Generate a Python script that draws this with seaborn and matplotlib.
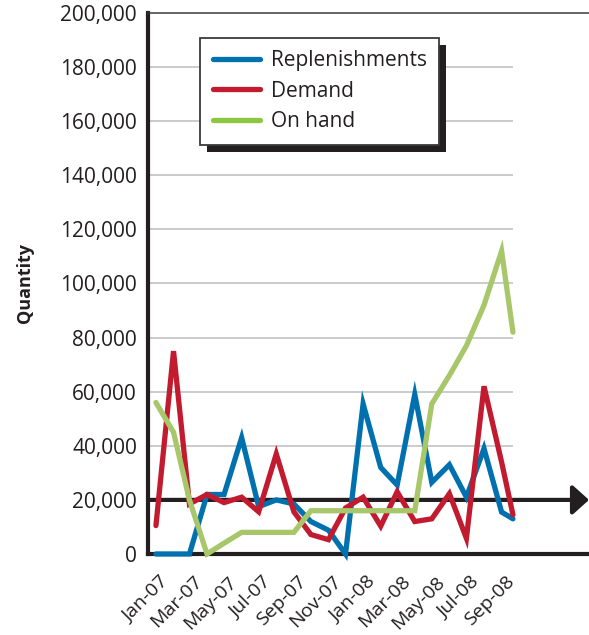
import matplotlib
matplotlib.use("Agg")
import matplotlib.pyplot as plt
import matplotlib.patches as mpatches
from matplotlib.transforms import IdentityTransform, ScaledTranslation
import pandas as pd
import seaborn as sns

# monthly points (mid-month), last reading early October 2008
dates = ["2007-01-15", "2007-02-15", "2007-03-15", "2007-04-15", "2007-05-15",
         "2007-06-15", "2007-07-15", "2007-08-15", "2007-09-15", "2007-10-15",
         "2007-11-15", "2007-12-15", "2008-01-15", "2008-02-15", "2008-03-15",
         "2008-04-15", "2008-05-15", "2008-06-15", "2008-07-15", "2008-08-15",
         "2008-09-15", "2008-10-05"]

replenishments = [0, 0, 0, 22000, 22000, 43000, 17500, 20000, 18500, 12000, 8800, 0,
                  55500, 32000, 25500, 59000, 26500, 33000, 21000, 39000, 15500, 13000]
demand = [10500, 75000, 18500, 22000, 19000, 21000, 15600, 37000, 15600, 7200, 5300, 17000,
          21000, 10300, 23000, 12000, 13000, 22300, 5800, 62000, 34000, 14500]
on_hand = [56000, 45000, 20000, 0, 4000, 8000, 8000, 8000, 8000, 16000, 16000, 16000,
           16000, 16000, 16000, 16000, 55500, 66000, 77000, 92000, 112000, 82000]

tick_labels = ["Jan-07", "Mar-07", "May-07", "Jul-07", "Sep-07", "Nov-07",
               "Jan-08", "Mar-08", "May-08", "Jul-08", "Sep-08"]
label_dates = ["2007-01-15", "2007-03-15", "2007-05-15", "2007-07-15", "2007-09-15",
               "2007-11-15", "2008-01-15", "2008-03-15", "2008-05-15", "2008-07-15",
               "2008-09-15"]
y_ticks = [0, 20000, 40000, 60000, 80000, 100000, 120000, 140000, 160000, 180000, 200000]
target_level = 20000

series_names = ["Replenishments", "Demand", "On hand"]
colors = {"Replenishments": "#0071AE", "Demand": "#C21B30", "On hand": "#A8C66A"}
ink = "#231F20"

df = pd.DataFrame({
    "Date": pd.to_datetime(dates * 3),
    "Quantity": replenishments + demand + on_hand,
    "Series": [s for s in series_names for _ in dates],
})

sns.set_style("white")
plt.rcParams["font.family"] = ["Open Sans", "DejaVu Sans"]

fig = plt.figure(figsize=(5.89, 6.35), dpi=100)
ax = fig.add_axes([148 / 589, 1 - 554 / 635, 441 / 589, 541 / 635])
ax.patch.set_alpha(0)

x_left = pd.Timestamp("2007-01-01")
x_right = pd.Timestamp("2009-02-16")

# gridlines stop at the last data point
ax.hlines(y_ticks[1:-1], x_left, pd.Timestamp(dates[-1]), color="#BDBDBD", lw=1.1, zorder=1)

# target line with arrow
ax.annotate("", xy=(1.0, target_level), xytext=(0.0, target_level),
            xycoords=("axes fraction", "data"), textcoords=("axes fraction", "data"),
            arrowprops=dict(arrowstyle="-|>,head_length=0.5,head_width=0.45",
                            color=ink, lw=3, mutation_scale=20, shrinkA=0, shrinkB=0),
            annotation_clip=False, zorder=1.5)

sns.lineplot(data=df, x="Date", y="Quantity", hue="Series", palette=colors,
             hue_order=series_names, linewidth=3.8, ax=ax, zorder=3)
for line in ax.get_lines():
    line.set_clip_on(False)
    line.set_solid_joinstyle("miter")

ax.set_xlim(x_left, x_right)
ax.set_ylim(0, 200000)

ax.set_yticks(y_ticks)
ax.set_yticklabels([f"{v:,}" for v in y_ticks], fontsize=15, color=ink)
ax.tick_params(axis="y", length=0, pad=8)

ax.set_xticks(pd.to_datetime(label_dates))
ax.set_xticklabels(tick_labels, fontsize=14, color=ink, rotation=45,
                   ha="right", va="center", rotation_mode="anchor")
ax.tick_params(axis="x", which="major", length=0, pad=18)
shift = ScaledTranslation(10 / 100, 0, fig.dpi_scale_trans)
for lbl in ax.get_xticklabels():
    lbl.set_transform(lbl.get_transform() + shift)
ax.set_xticks(pd.date_range("2007-01-01", "2008-11-01", freq="2MS"), minor=True)
ax.tick_params(axis="x", which="minor", length=9, width=1.3, color=ink, direction="out")

ax.set_xlabel("")
ax.set_ylabel("")
fig.text(25 / 589, 1 - 283 / 635, "Quantity", rotation=90, ha="center", va="center",
         fontsize=13, fontweight="bold", color=ink)

for side in ["left", "bottom"]:
    ax.spines[side].set_color(ink)
    ax.spines[side].set_linewidth(3)
ax.spines["top"].set_color("#3A3A3A")
ax.spines["top"].set_linewidth(1.1)
ax.spines["right"].set_visible(False)

handles, labels = ax.get_legend_handles_labels()
leg = ax.legend(handles, labels, loc="upper left", bbox_to_anchor=(0.118, 0.954),
                borderaxespad=0, fontsize=15, frameon=True, fancybox=False,
                handlelength=2.3, handletextpad=0.5, labelspacing=0.45, borderpad=0.6)
leg.get_frame().set_edgecolor("#3A3A3A")
leg.get_frame().set_linewidth(1.3)
leg.get_frame().set_alpha(1)
for lh in leg.get_lines():
    lh.set_linewidth(3.8)
leg.get_lines()[2].set_color("#8DC63F")
for t in leg.get_texts():
    t.set_color(ink)
leg.set_zorder(6)

fig.canvas.draw()
bb = leg.get_window_extent()
shadow = mpatches.Rectangle((bb.x0 + 7, bb.y0 - 7), bb.width, bb.height,
                            transform=IdentityTransform(), facecolor=ink,
                            edgecolor="none", zorder=5.5)
ax.add_artist(shadow)

fig.savefig("out.png", dpi=100)
